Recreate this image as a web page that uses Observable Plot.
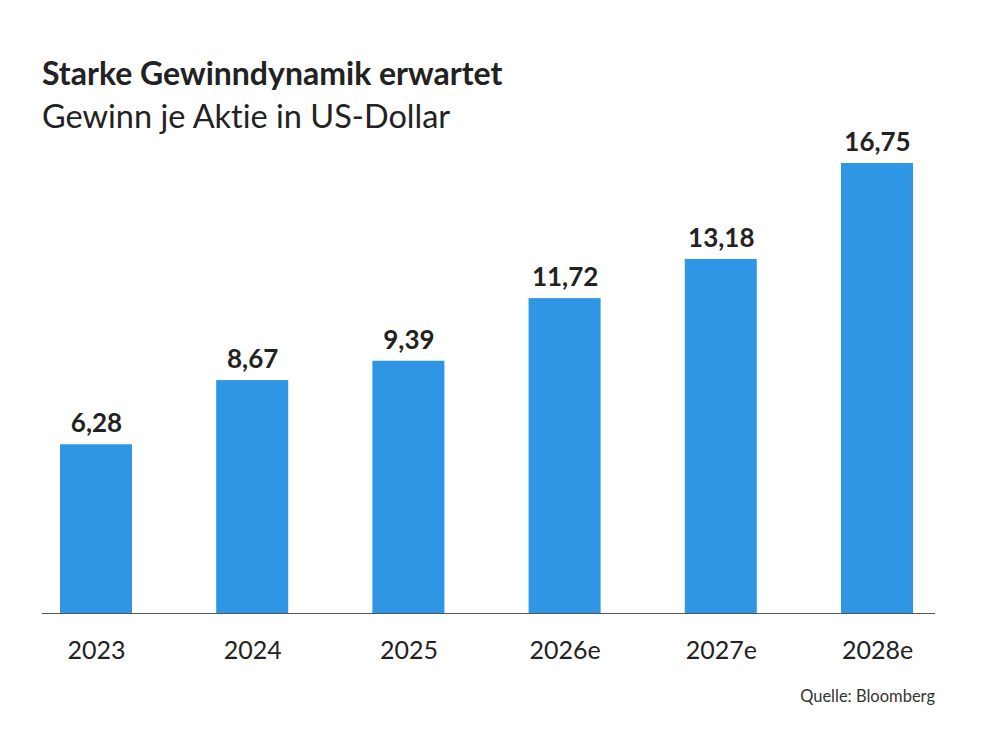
<!DOCTYPE html>
<html>
<head>
<meta charset="utf-8">
<script src="https://cdn.jsdelivr.net/npm/d3@7"></script>
<script src="https://cdn.jsdelivr.net/npm/@observablehq/plot@0.6"></script>
<style>
  html, body { margin: 0; padding: 0; background: #fff; }
  body { width: 1000px; height: 754px; position: relative; font-family: Lato, "Open Sans", sans-serif; color: #222; overflow: hidden; font-variant-ligatures: none; font-feature-settings: "liga" 0, "clig" 0; }
  #title { position: absolute; left: 42px; top: 53px; font-size: 32px; font-weight: 700; white-space: nowrap; z-index: 2; }
  #subtitle { position: absolute; left: 42px; top: 96px; font-size: 32.5px; font-weight: 400; white-space: nowrap; z-index: 2; }
  #chart { position: absolute; left: 0; top: 125px; z-index: 1; }
  #caption { position: absolute; right: 65px; top: 686px; font-size: 16.5px; color: #333; white-space: nowrap; }
</style>
</head>
<body>
<div id="title">Starke Gewinndynamik erwartet</div>
<div id="subtitle">Gewinn je Aktie in US-Dollar</div>
<div id="chart"></div>
<div id="caption">Quelle: Bloomberg</div>
<script>
const years = ["2023", "2024", "2025", "2026e", "2027e", "2028e"];
const eps = [6.28, 8.67, 9.39, 11.72, 13.18, 16.75];

const data = years.map((y, i) => ({year: y, value: eps[i]}));
const fmt = v => v.toFixed(2).replace(".", ",");

const chart = Plot.plot({
  width: 1000,
  height: 570,
  marginLeft: 42,
  marginRight: 65,
  marginTop: 38,
  marginBottom: 82,
  style: {fontFamily: "Lato, 'Open Sans', sans-serif", color: "#222", background: "transparent", overflow: "visible"},
  x: {domain: years, paddingInner: 0.539, paddingOuter: 0.128, align: 0.45, round: false, label: null},
  y: {domain: [0, 16.75], axis: null},
  marks: [
    Plot.barY(data, {x: "year", y: "value", fill: "#2F95E5"}),
    Plot.ruleY([0], {stroke: "#555", strokeWidth: 1.2}),
    Plot.text(data, {x: "year", y: "value", text: d => fmt(d.value), dy: -21, fontSize: 26, fontWeight: 700, fill: "#222"}),
    Plot.axisX({tickSize: 0, tickPadding: 28, fontSize: 25, label: null, fill: "#222"})
  ]
});
document.getElementById("chart").appendChild(chart);
</script>
</body>
</html>
